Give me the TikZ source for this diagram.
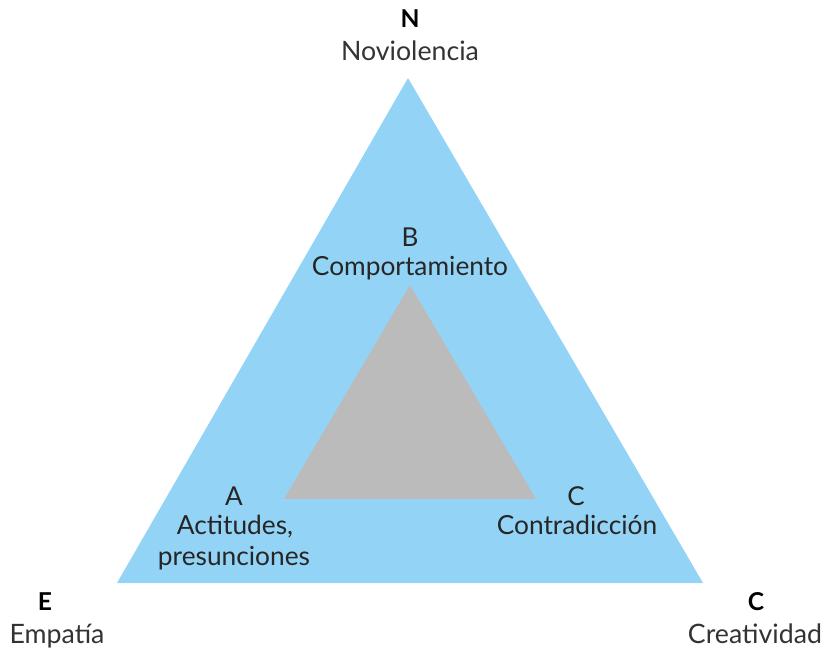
\documentclass[tikz,border=0pt]{standalone}
\usepackage{fontspec}
\setmainfont{Lato}
\usepackage{tikz}
\definecolor{skyblue}{HTML}{93D4F6}
\definecolor{innergray}{HTML}{BBBBBB}
\definecolor{labelgray}{HTML}{333333}

\begin{document}
\begin{tikzpicture}[x=0.025cm,y=-0.025cm]
\tikzstyle{every node}+=[inner sep=0pt, anchor=base]
\tikzstyle{vertexletter}=[font=\fontsize{17.5}{20}\selectfont\bfseries, text=black]
\tikzstyle{vertexname}=[font=\fontsize{19}{22}\selectfont, text=labelgray]
\tikzstyle{innerletter}=[font=\fontsize{18.5}{21}\selectfont, text=black!85]
\tikzstyle{innername}=[font=\fontsize{18.7}{21}\selectfont, text=black!85]
\useasboundingbox (0,0) rectangle (824,649);
% outer triangle
\coordinate (N) at (408,78);
\coordinate (E) at (117,583);
\coordinate (C) at (703,583);
\fill [skyblue] (N) -- (E) -- (C) -- cycle;
% inner triangle
\coordinate (B) at (410,285);
\coordinate (A) at (284,499);
\coordinate (Cin) at (536,499);
\fill [innergray] (B) -- (A) -- (Cin) -- cycle;
% corner labels
\node [vertexletter] (nletter) at (410,28) {N};
\node [vertexname] (nname) at (410,61) {Noviolencia};
\node [vertexletter] (eletter) at (45,610) {E};
\node [vertexname] (ename) at (57,643) {Empatía};
\node [vertexletter] (cletter) at (756,610) {C};
\node [vertexname] (cname) at (755,643) {Creatividad};
% inner labels
\node [innerletter] (bletter) at (410,247) {B};
\node [innername] (bname) at (410,276) {Comportamiento};
\node [innerletter] (aletter) at (234,505) {A};
\node [innername] (aname) at (235,535) {Actitudes,};
\node [innername] (aname2) at (234,565) {presunciones};
\node [innerletter] (ciletter) at (576,505) {C};
\node [innername] (ciname) at (577,535) {Contradicción};
\end{tikzpicture}
\end{document}
